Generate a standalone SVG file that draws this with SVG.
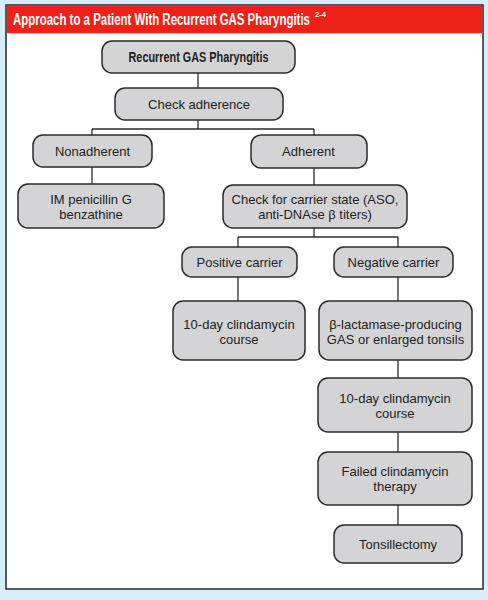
<svg xmlns="http://www.w3.org/2000/svg" width="488" height="600" viewBox="0 0 488 600">
<style>
.box{fill:#d4d4d6;stroke:#2b2b2b;stroke-width:1.5}
.t{font-family:"Liberation Sans",Arial,sans-serif;font-size:13px;fill:#222;text-anchor:middle}
.b{font-weight:bold;font-size:14px}
.ln{stroke:#2b2b2b;stroke-width:1.3;fill:none}
</style>
<rect x="0" y="0" width="488" height="600" fill="#d6eef9"/>
<rect x="6" y="5" width="477" height="584" fill="#ffffff" stroke="#1e2a30" stroke-width="1.5"/>
<rect x="6.75" y="5.75" width="475.5" height="27.5" fill="#ee2118"/>
<text transform="translate(13,25) scale(0.674,1)" x="0" y="0" font-family="Liberation Sans,Arial,sans-serif" font-weight="bold" font-size="17" fill="#ffffff">Approach to a Patient With Recurrent GAS Pharyngitis</text>
<text x="315" y="17" font-family="Liberation Sans,Arial,sans-serif" font-weight="bold" font-size="7.5" fill="#ffffff">2-4</text>
<g id="connectors">
<path class="ln" d="M198,73V88"/>
<path class="ln" d="M198,120V129M92,129H314M92,129V135M314,129V135"/>
<path class="ln" d="M92,167V184"/>
<path class="ln" d="M314,168V185"/>
<path class="ln" d="M314,228V237M238,237H398M238,237V247M398,237V247"/>
<path class="ln" d="M238,277V301"/>
<path class="ln" d="M398,277V301"/>
<path class="ln" d="M398,360V378"/>
<path class="ln" d="M398,432V452"/>
<path class="ln" d="M398,505V525"/>
</g>
<g id="n1"><rect class="box" x="102" y="41" width="193" height="32" rx="10"/><text class="t b" x="198.5" y="62" textLength="140" lengthAdjust="spacingAndGlyphs">Recurrent GAS Pharyngitis</text></g>
<g id="n2"><rect class="box" x="115" y="88" width="168" height="32" rx="10"/><text class="t" x="199" y="108.5">Check adherence</text></g>
<g id="n3"><rect class="box" x="33" y="135" width="119" height="32" rx="10"/><text class="t" x="92.5" y="155.5">Nonadherent</text></g>
<g id="n4"><rect class="box" x="251" y="135" width="116" height="33" rx="10"/><text class="t" x="308.5" y="156">Adherent</text></g>
<g id="n5"><rect class="box" x="18" y="184" width="146" height="44" rx="10"/><text class="t" x="91" y="203.5">IM penicillin G</text><text class="t" x="91" y="218.5">benzathine</text></g>
<g id="n6"><rect class="box" x="223" y="185" width="184" height="43" rx="10"/><text class="t" x="315" y="203.5">Check for carrier state (ASO,</text><text class="t" x="315" y="218.5">anti-DNAse β titers)</text></g>
<g id="n7"><rect class="box" x="182" y="247" width="115" height="30" rx="10"/><text class="t" x="239.5" y="266.5">Positive carrier</text></g>
<g id="n8"><rect class="box" x="334" y="247" width="119" height="30" rx="10"/><text class="t" x="393.5" y="266.5">Negative carrier</text></g>
<g id="n9"><rect class="box" x="173" y="301" width="132" height="59" rx="10"/><text class="t" x="239" y="329">10-day clindamycin</text><text class="t" x="239" y="343.5">course</text></g>
<g id="n10"><rect class="box" x="319" y="301" width="153" height="59" rx="10"/><text class="t" x="395.5" y="329">β-lactamase-producing</text><text class="t" x="395.5" y="343.5">GAS or enlarged tonsils</text></g>
<g id="n11"><rect class="box" x="318" y="378" width="154" height="54" rx="10"/><text class="t" x="395" y="402.5">10-day clindamycin</text><text class="t" x="395" y="417.5">course</text></g>
<g id="n12"><rect class="box" x="318" y="452" width="154" height="53" rx="10"/><text class="t" x="395" y="476">Failed clindamycin</text><text class="t" x="395" y="491">therapy</text></g>
<g id="n13"><rect class="box" x="334" y="525" width="128" height="38" rx="10"/><text class="t" x="398" y="548.5">Tonsillectomy</text></g>
</svg>
